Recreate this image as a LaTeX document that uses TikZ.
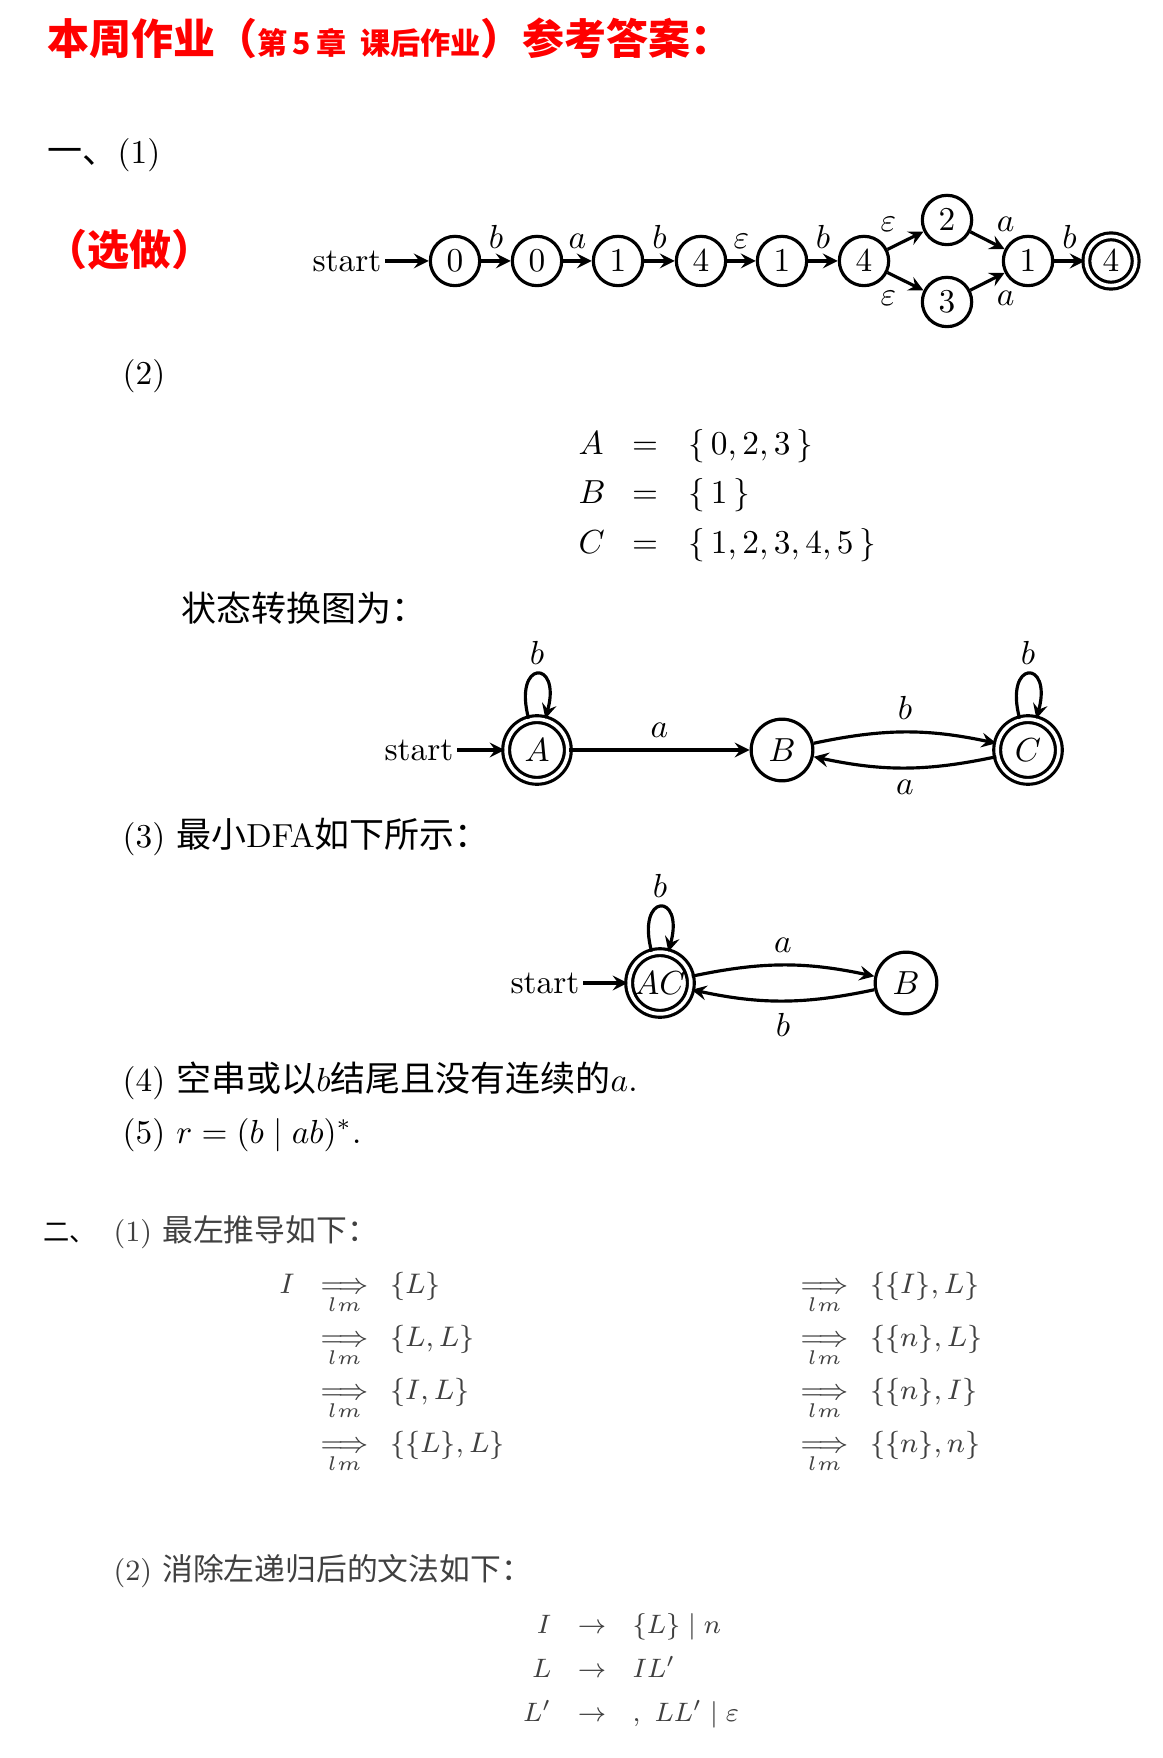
\RequirePackage{fix-cm}
\documentclass[tikz,border=0pt]{standalone}
\usepackage{amsmath}
\usepackage{fontspec}
\usepackage{tikz}
\newfontfamily\cjk[Scale=1.05]{Noto Sans CJK SC}

\begin{document}
\begin{tikzpicture}[x=0.3pt, y=-0.3pt, >=stealth,
  txt/.style={anchor=base west, inner sep=0pt},
  nfa/.style={circle, draw, line width=0.95pt, minimum size=14.8pt, inner sep=0pt},
  dfa/.style={circle, draw, line width=0.95pt, minimum size=18.5pt, inner sep=0pt},
  acc/.style={double, double distance=1.1pt},
  trans/.style={->, line width=0.95pt},
  sect/.style={font=\fontsize{8.8}{10}\selectfont, text=black!75},
  deriv/.style={font=\fontsize{8.5}{10}\selectfont, text=black!75, anchor=base west, inner sep=0pt},
  gram/.style={font=\fontsize{8}{10}\selectfont, text=black!75, inner sep=0pt}]
\useasboundingbox (0,0) rectangle (1162,1758);

% title
\node [txt, text=red] (title) at (47,55) {\cjk\bfseries\fontsize{12}{12}\selectfont 本周作业（{\fontsize{8.6}{9}\selectfont 第\,5\,章\ \ 课后作业}）参考答案：};

% part one (1)
\node [txt] (one) at (47,164) {{\cjk 一、}(1)};
\node [txt, text=red] (opt) at (45,266) {\cjk\bfseries\fontsize{12}{12}\selectfont （选做）};

\node [inner sep=1pt] (s0) at (347,261) {start};
\node [nfa] (q0) at (455,261) {$0$};
\node [nfa] (q1) at (537,261) {$0$};
\node [nfa] (q2) at (618,261) {$1$};
\node [nfa] (q3) at (701,261) {$4$};
\node [nfa] (q4) at (782,261) {$1$};
\node [nfa] (q5) at (864,261) {$4$};
\node [nfa] (q6) at (947,220) {$2$};
\node [nfa] (q7) at (947,302) {$3$};
\node [nfa] (q8) at (1028,261) {$1$};
\node [nfa, acc] (q9) at (1111,261) {$4$};
\draw [trans] (s0) -- (q0);
\draw [trans] (q0) -- node[pos=0.5, above] {$b$} (q1);
\draw [trans] (q1) -- node[pos=0.5, above] {$a$} (q2);
\draw [trans] (q2) -- node[pos=0.5, above] {$b$} (q3);
\draw [trans] (q3) -- node[pos=0.5, above] {$\varepsilon$} (q4);
\draw [trans] (q4) -- node[pos=0.5, above] {$b$} (q5);
\draw [trans] (q5) -- node[pos=0.5, above left=-1pt] {$\varepsilon$} (q6);
\draw [trans] (q5) -- node[pos=0.5, below left=-1pt] {$\varepsilon$} (q7);
\draw [trans] (q6) -- node[pos=0.5, above right=-1pt] {$a$} (q8);
\draw [trans] (q7) -- node[pos=0.5, below right=-1pt] {$a$} (q8);
\draw [trans] (q8) -- node[pos=0.5, above] {$b$} (q9);

% part one (2)
\node [txt] (two) at (122,385) {(2)};
\node [txt] (lA) at (578,455) {$A$};
\node [anchor=base, inner sep=0pt] (eA) at (645,455) {$=$};
\node [txt] (rA) at (688,455) {$\{\,0,2,3\,\}$};
\node [txt] (lB) at (578,504) {$B$};
\node [anchor=base, inner sep=0pt] (eB) at (645,504) {$=$};
\node [txt] (rB) at (688,504) {$\{\,1\,\}$};
\node [txt] (lC) at (578,554) {$C$};
\node [anchor=base, inner sep=0pt] (eC) at (645,554) {$=$};
\node [txt] (rC) at (688,554) {$\{\,1,2,3,4,5\,\}$};
\node [txt] (lead) at (181,622) {\cjk 状态转换图为：};

\node [inner sep=1pt] (s1) at (419,750) {start};
\node [dfa, acc] (A) at (537,750) {$A$};
\node [dfa] (B) at (782,750) {$B$};
\node [dfa, acc] (C) at (1028,750) {$C$};
\draw [trans] (s1) -- (A);
\draw [trans] (A) to[loop above, min distance=6.5mm] node[above, inner sep=2.5pt] {$b$} (A);
\draw [trans] (A) -- node[pos=0.5, above] {$a$} (B);
\draw [trans] (B) to[bend left=12] node[pos=0.5, above] {$b$} (C);
\draw [trans] (C) to[bend left=12] node[pos=0.5, below] {$a$} (B);
\draw [trans] (C) to[loop above, min distance=6.5mm] node[above, inner sep=2.5pt] {$b$} (C);

% part one (3)-(5)
\node [txt] (three) at (122,847) {(3)\ {\cjk 最小}DFA{\cjk 如下所示：}};
\node [inner sep=1pt] (s2) at (545,983) {start};
\node [dfa, acc] (AC) at (660,983) {$AC$};
\node [dfa] (B2) at (906,983) {$B$};
\draw [trans] (s2) -- (AC);
\draw [trans] (AC) to[loop above, min distance=6.5mm] node[above, inner sep=2.5pt] {$b$} (AC);
\draw [trans] (AC) to[bend left=12] node[pos=0.5, above] {$a$} (B2);
\draw [trans] (B2) to[bend left=12] node[pos=0.5, below] {$b$} (AC);
\node [txt] (four) at (122,1091) {(4)\ {\cjk 空串或以}$b${\cjk 结尾且没有连续的}$a$.};
\node [txt] (five) at (122,1143) {(5)\ $r=(b\mid ab)^{*}$.};

% part two (1)
\node [txt] (sec2) at (43,1241) {\cjk\fontsize{7.5}{8}\selectfont 二、};
\node [txt, sect] (two1) at (113,1241) {(1)\ {\cjk 最左推导如下：}};
\node [deriv, anchor=base] (dI) at (287,1293) {$I$};
\node [deriv] (d1) at (320,1293) {$\underset{lm}{\Longrightarrow}\hspace{4pt}\{L\}$};
\node [deriv] (d2) at (320,1346) {$\underset{lm}{\Longrightarrow}\hspace{4pt}\{L,L\}$};
\node [deriv] (d3) at (320,1399) {$\underset{lm}{\Longrightarrow}\hspace{4pt}\{I,L\}$};
\node [deriv] (d4) at (320,1452) {$\underset{lm}{\Longrightarrow}\hspace{4pt}\{\{L\},L\}$};
\node [deriv] (d5) at (800,1293) {$\underset{lm}{\Longrightarrow}\hspace{4pt}\{\{I\},L\}$};
\node [deriv] (d6) at (800,1346) {$\underset{lm}{\Longrightarrow}\hspace{4pt}\{\{n\},L\}$};
\node [deriv] (d7) at (800,1399) {$\underset{lm}{\Longrightarrow}\hspace{4pt}\{\{n\},I\}$};
\node [deriv] (d8) at (800,1452) {$\underset{lm}{\Longrightarrow}\hspace{4pt}\{\{n\},n\}$};

% part two (2)
\node [txt, sect] (two2) at (113,1580) {(2)\ {\cjk 消除左递归后的文法如下：}};
\node [gram, anchor=base east] (gI) at (552,1633) {$I$};
\node [gram, anchor=base] (aI) at (592,1633) {$\rightarrow$};
\node [gram, anchor=base west] (rI) at (632,1633) {$\{L\}\mid n$};
\node [gram, anchor=base east] (gL) at (552,1677) {$L$};
\node [gram, anchor=base] (aL) at (592,1677) {$\rightarrow$};
\node [gram, anchor=base west] (rL) at (632,1677) {$IL'$};
\node [gram, anchor=base east] (gM) at (552,1721) {$L'$};
\node [gram, anchor=base] (aM) at (592,1721) {$\rightarrow$};
\node [gram, anchor=base west] (rM) at (632,1721) {$,\ LL'\mid\varepsilon$};
\end{tikzpicture}
\end{document}
